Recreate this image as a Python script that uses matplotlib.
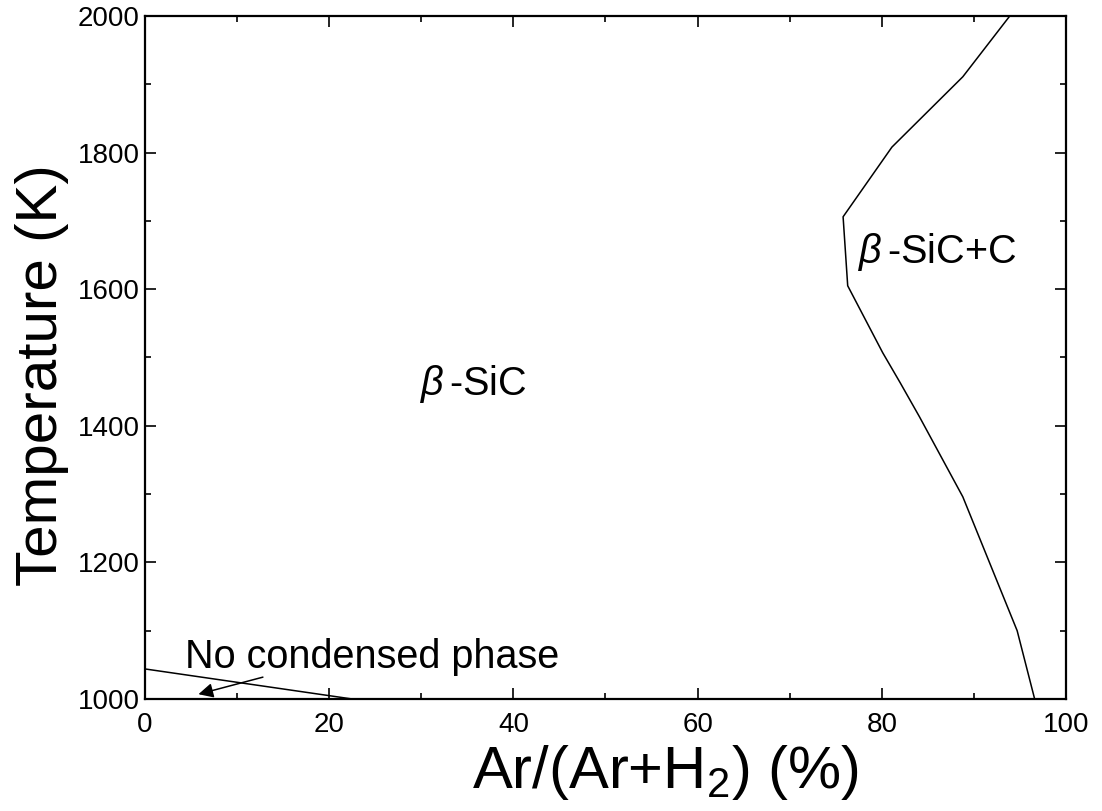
import matplotlib
matplotlib.use("Agg")
import matplotlib.pyplot as plt
from matplotlib.ticker import MultipleLocator

plt.rcParams['font.family'] = ['Liberation Sans', 'DejaVu Sans']
plt.rcParams['mathtext.fontset'] = 'custom'
plt.rcParams['mathtext.rm'] = 'Liberation Sans'
plt.rcParams['mathtext.it'] = 'Liberation Sans:italic'
plt.rcParams['mathtext.default'] = 'regular'

# phase boundary between beta-SiC and beta-SiC + C
boundary_ar = [96.6, 94.7, 88.8, 84.1, 82.0, 80.1, 76.3, 75.8, 81.1, 88.8, 93.9]
boundary_temp = [1000, 1100, 1296, 1413, 1463, 1507, 1605, 1706, 1808, 1911, 2000]

# lower boundary of the no-condensed-phase region
nocond_ar = [0, 22.5]
nocond_temp = [1044, 1000]

x_ticks = [0, 20, 40, 60, 80, 100]
y_ticks = [1000, 1200, 1400, 1600, 1800, 2000]

fig = plt.figure(figsize=(11.02, 8.11), dpi=100)
ax = fig.add_axes([0.1316, 0.1381, 0.8357, 0.8422])

ax.plot(boundary_ar, boundary_temp, color='black', linewidth=1.1)
ax.plot(nocond_ar, nocond_temp, color='black', linewidth=1.1)

ax.annotate('', xy=(5.8, 1007), xytext=(12.8, 1032),
            arrowprops=dict(arrowstyle='-|>', color='black', lw=1.1,
                            mutation_scale=22, shrinkA=0, shrinkB=0))

ax.text(4.3, 1045, 'No condensed phase', fontsize=28.5, va='baseline', ha='left')
ax.text(29.9, 1445, r'$\mathit{\beta}\,$-SiC', fontsize=28.5, va='baseline', ha='left')
ax.text(77.4, 1638, r'$\mathit{\beta}\,$-SiC+C', fontsize=28.5, va='baseline', ha='left')

ax.set_xlim(0, 100)
ax.set_ylim(1000, 2000)
ax.set_xticks(x_ticks)
ax.set_yticks(y_ticks)
ax.xaxis.set_minor_locator(MultipleLocator(10))
ax.yaxis.set_minor_locator(MultipleLocator(100))
ax.tick_params(which='both', direction='in', top=True, right=True,
               width=1.2, labelsize=20)
ax.tick_params(which='major', length=8)
ax.tick_params(which='minor', length=4)
ax.tick_params(axis='x', which='major', pad=9)
ax.tick_params(axis='y', which='major', pad=4)
for s in ax.spines.values():
    s.set_linewidth(1.6)

ax.set_xlabel(r'Ar/(Ar+H$_2$) (%)', fontsize=43)
ax.xaxis.set_label_coords(0.565, -0.130)
ax.xaxis.label.set_verticalalignment('baseline')
ax.set_ylabel('Temperature (K)', fontsize=42)
ax.yaxis.set_label_coords(-0.0825, 0.474)

fig.savefig('out.png', dpi=100)
